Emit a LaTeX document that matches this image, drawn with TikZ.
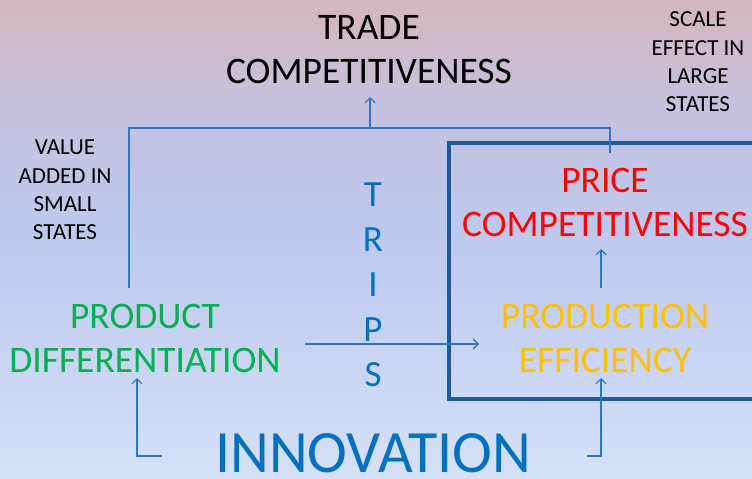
\documentclass[tikz,border=0pt]{standalone}
\usepackage{fontspec}
\setmainfont{Carlito}
\usetikzlibrary{arrows.meta}
\definecolor{bgA}{RGB}{213,182,188}
\definecolor{bgB}{RGB}{198,193,222}
\definecolor{bgC}{RGB}{189,201,238}
\definecolor{bgD}{RGB}{214,224,248}
\definecolor{lineblue}{RGB}{46,117,196}
\definecolor{boxblue}{RGB}{31,90,155}
\definecolor{tblue}{RGB}{0,112,192}
\definecolor{tgreen}{RGB}{0,176,80}
\definecolor{tyellow}{RGB}{255,192,0}
\definecolor{tred}{RGB}{255,0,0}
\pgfdeclareverticalshading{bgshade}{100bp}{color(0bp)=(bgD); color(25bp)=(bgD); color(50bp)=(bgC); color(64bp)=(bgB); color(75bp)=(bgA); color(100bp)=(bgA)}
\begin{document}
\begin{tikzpicture}[x=1pt,y=-1pt,
  big/.style={font=\fontsize{37.5}{44}\selectfont, align=center, inner sep=0pt},
  small/.style={font=\fontsize{23}{28.3}\selectfont, align=center, inner sep=0pt},
  conn/.style={draw=lineblue, line width=1.1pt},
  arr/.style={conn, -{Straight Barb[length=5pt,width=10pt,line width=1.1pt]}}]
\useasboundingbox (0,0) rectangle (752,479);
\shade[shading=bgshade] (0,0) rectangle (752,479);
% box
\draw[boxblue, line width=3.2pt] (760,143) -- (449,143) -- (449,399) -- (760,399);
% texts
\node[big, text=black] (trade) at (369,50) {TRADE\\COMPETITIVENESS};
\node[small, text=black] (scale) at (698,62) {SCALE\\EFFECT IN\\LARGE\\STATES};
\node[small, text=black] (value) at (65,190) {VALUE\\ADDED IN\\SMALL\\STATES};
\node[big, text=tred] (price) at (605,202) {PRICE\\COMPETITIVENESS};
\node[big, text=tyellow] (prod) at (605,338) {PRODUCTION\\EFFICIENCY};
\node[big, text=tgreen] (pd) at (145,338) {PRODUCT\\DIFFERENTIATION};
\node[font=\fontsize{37}{45}\selectfont, align=center, inner sep=0pt, text=tblue] (trips) at (373,285) {T\\R\\I\\P\\S};
\node[font=\fontsize{60}{62}\selectfont, inner sep=0pt, text=tblue] (innov) at (373,453) {INNOVATION};
% connectors
\coordinate (c1) at (129,288);
\coordinate (c2) at (129,128);
\coordinate (c3) at (610,128);
\coordinate (c4) at (610,153);
\coordinate (tm) at (370,128);
\coordinate (tt) at (370,97);
\draw[conn] (c1) -- (c2) -- (c3) -- (c4);
\draw[arr] (tm) -- (tt);
\coordinate (h1) at (305,344);
\coordinate (h2) at (479,344);
\draw[arr] (h1) -- (h2);
\coordinate (v1) at (601,288);
\coordinate (v2) at (601,249);
\draw[arr] (v1) -- (v2);
\coordinate (l1) at (162,456);
\coordinate (l2) at (137,456);
\coordinate (l3) at (137,378);
\draw[arr] (l1) -- (l2) -- (l3);
\coordinate (r1) at (587,456);
\coordinate (r2) at (601,456);
\coordinate (r3) at (601,378);
\draw[arr] (r1) -- (r2) -- (r3);
\end{tikzpicture}
\end{document}
